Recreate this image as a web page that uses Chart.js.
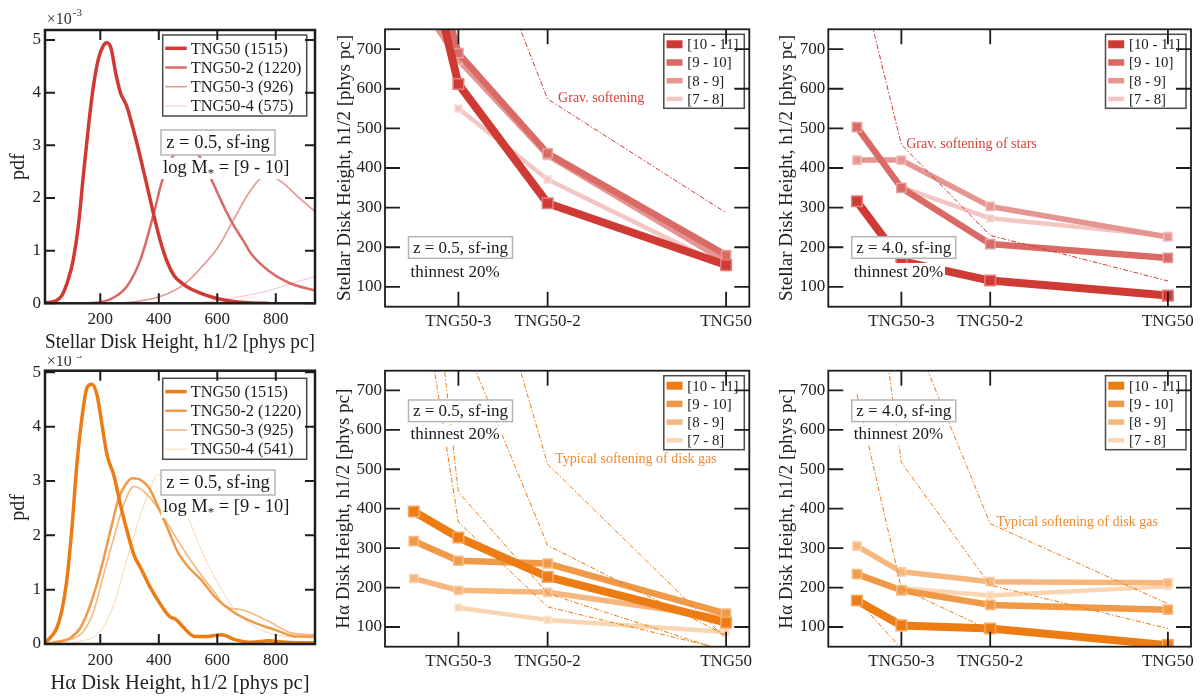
<!DOCTYPE html>
<html>
<head>
<meta charset="utf-8">
<title>TNG50 disk heights</title>
<script src="https://cdn.jsdelivr.net/npm/chart.js@4.4.0/dist/chart.umd.min.js"></script>
<style>
  html, body { margin: 0; padding: 0; background: #fff; }
  body { position: relative; width: 1200px; height: 697px; overflow: hidden; }
  canvas { position: absolute; }
</style>
</head>
<body>
<canvas id="pdfStars" width="330" height="356" style="left:0;top:0"></canvas>
<canvas id="resStarsZ05" width="440" height="350" style="left:320px;top:0"></canvas>
<canvas id="resStarsZ4" width="440" height="350" style="left:760px;top:0"></canvas>
<canvas id="pdfHa" width="330" height="341" style="left:0;top:356px"></canvas>
<canvas id="resHaZ05" width="440" height="347" style="left:320px;top:350px"></canvas>
<canvas id="resHaZ4" width="440" height="347" style="left:760px;top:350px"></canvas>

<script>
const SERIF = "'Liberation Serif', 'Times New Roman', serif";

// ---- colours ----
const reds = ["#cf3b34", "#da6a65", "#e69692", "#f2c6c3"];
const oranges = ["#ec7c13", "#f09a48", "#f5b77d", "#f9d5b1"];

// ---- left column: pdfs of disk height (pdf in units of 1e-3), log M* = [9 - 10] ----
const pdfTicksY = [0, 1, 2, 3, 4, 5];
const pdfTicksX = [200, 400, 600, 800];
const runNamesStars = ["TNG50 (1515)", "TNG50-2 (1220)", "TNG50-3 (926)", "TNG50-4 (575)"];
const runNamesHa = ["TNG50 (1515)", "TNG50-2 (1220)", "TNG50-3 (925)", "TNG50-4 (541)"];
const pdfWidths = [3.5, 2.5, 1.6, 1];

const starPdfX1 = [11, 45, 68, 91, 108, 125, 142, 160, 177, 194, 211, 223, 237, 252, 269, 290, 313, 338, 361, 384, 407, 430, 453, 480, 510, 540, 568, 600, 637, 706, 775];
const starPdfY1 = [0.01, 0.04, 0.14, 0.46, 0.84, 1.47, 2.42, 3.38, 4.14, 4.65, 4.90, 4.95, 4.84, 4.39, 4.0, 3.75, 3.3, 2.75, 2.2, 1.65, 1.15, 0.77, 0.52, 0.38, 0.27, 0.2, 0.14, 0.09, 0.05, 0.01, 0];
const starPdfX2 = [154, 200, 246, 292, 338, 384, 410, 440, 480, 520, 550, 575, 602, 630, 660, 690, 717, 775, 844, 934];
const starPdfY2 = [0, 0.02, 0.11, 0.33, 0.84, 1.73, 2.3, 2.72, 2.95, 2.9, 2.7, 2.41, 2.08, 1.75, 1.44, 1.18, 0.93, 0.62, 0.39, 0.24];
const starPdfX3 = [250, 330, 410, 487, 545, 602, 660, 706, 752, 775, 821, 878, 934];
const starPdfY3 = [0, 0.04, 0.14, 0.36, 0.68, 1.06, 1.63, 2.08, 2.39, 2.42, 2.30, 2.01, 1.74];
const starPdfX4 = [350, 545, 660, 775, 855, 934];
const starPdfY4 = [0, 0.02, 0.11, 0.24, 0.38, 0.51];

const haPdfX1 = [11, 33, 51, 68, 85, 102, 120, 137, 154, 171, 189, 206, 223, 246, 269, 292, 315, 338, 372, 407, 436, 459, 482, 522, 568, 614, 660, 717, 775, 832, 934];
const haPdfY1 = [0.02, 0.14, 0.29, 0.60, 1.15, 2.07, 3.30, 4.15, 4.71, 4.78, 4.58, 4.03, 3.48, 3.11, 2.56, 2.07, 1.64, 1.40, 1.03, 0.72, 0.51, 0.45, 0.32, 0.14, 0.14, 0.17, 0.08, 0.03, 0.06, 0.03, 0.02];
const haPdfX2 = [11, 62, 97, 131, 166, 200, 234, 263, 286, 309, 338, 367, 395, 430, 464, 499, 545, 591, 660, 728, 798, 867, 934];
const haPdfY2 = [0, 0.05, 0.11, 0.29, 0.72, 1.33, 2.07, 2.68, 2.93, 3.05, 3.02, 2.87, 2.56, 2.13, 1.70, 1.43, 1.18, 0.87, 0.57, 0.39, 0.26, 0.14, 0.14];
const haPdfX3 = [11, 97, 142, 177, 211, 246, 280, 315, 372, 407, 453, 499, 545, 591, 625, 683, 775, 855, 934];
const haPdfY3 = [0, 0.08, 0.23, 0.60, 1.27, 1.95, 2.56, 2.90, 2.68, 2.41, 2.01, 1.62, 1.27, 0.95, 0.70, 0.63, 0.42, 0.20, 0.17];
const haPdfX4 = [60, 131, 200, 246, 292, 338, 372, 395, 420, 460, 499, 545, 602, 660, 728, 798, 934];
const haPdfY4 = [0, 0.05, 0.23, 0.72, 1.58, 2.38, 2.87, 3.11, 3.08, 2.85, 2.35, 1.73, 1.12, 0.63, 0.32, 0.17, 0.11];

// ---- middle / right columns: thinnest-20% heights vs resolution ----
// x position of each run (TNG50-4, TNG50-3, TNG50-2, TNG50)
const resLevels = [1, 2, 4, 8];
const resTicks = [2, 4, 8];
const resTickLabels = ["TNG50-3", "TNG50-2", "TNG50"];
const heightTicks = [100, 200, 300, 400, 500, 600, 700];
const massBins = ["[10 - 11]", "[9 - 10]", "[8 - 9]", "[7 - 8]"];
const binWidths = [8, 6.5, 5.5, 4.5];
const binMarkers = [7.5, 6.5, 5.8, 4.8];

// stellar disk heights [phys pc], z = 0.5
const starZ05Bin1011 = [1075, 612, 311, 155];
const starZ05Bin910 = [1115, 690, 437, 180];
const starZ05Bin89 = [842, 672, 432, 163];
const starZ05Bin78 = [null, 550, 371, 150];
const starSoftZ05 = [2296, 1148, 574, 287];

// stellar disk heights [phys pc], z = 4
const starZ4Bin1011 = [316, 165, 116, 78];
const starZ4Bin910 = [503, 350, 208, 173];
const starZ4Bin89 = [420, 420, 303, 226];
const starZ4Bin78 = [null, 352, 273, 229];
const starSoftZ4 = [918, 459, 230, 115];

// H-alpha disk heights [phys pc], z = 0.5
const haZ05Bin1011 = [393, 327, 227, 111];
const haZ05Bin910 = [318, 268, 261, 134];
const haZ05Bin89 = [223, 193, 188, 122];
const haZ05Bin78 = [null, 149, 118, 87];
const gasSoftZ05A = [1083, 366, 151, 42];
const gasSoftZ05B = [1434, 442, 185, 38];
const gasSoftZ05C = [1130, 856, 307, 79];
const gasSoftZ05D = [2580, 1290, 513, 70];

// H-alpha disk heights [phys pc], z = 4
const haZ4Bin1011 = [167, 104, 96, 54];
const haZ4Bin910 = [234, 193, 156, 144];
const haZ4Bin89 = [305, 240, 215, 212];
const haZ4Bin78 = [null, 198, 180, 203];
const gasSoftZ4A = [1343, 517, 206, 96];
const gasSoftZ4B = [1830, 914, 362, 159];
const gasSoftZ4C = [690, 198, 92, 45];
const gasSoftZ4D = [170, 45, 25, 12];

// ---------------------------------------------------------------
function lighten(hex, f) {
  const n = parseInt(hex.slice(1), 16);
  const c = [n >> 16, (n >> 8) & 255, n & 255].map(v => Math.round(v + (255 - v) * f));
  return `rgb(${c[0]},${c[1]},${c[2]})`;
}

// frame around the plot area with inward ticks on all four sides
Chart.register({
  id: 'frame',
  afterDraw(chart, args, o) {
    const { ctx, chartArea: a } = chart;
    const { x, y } = chart.scales;
    ctx.save();
    ctx.strokeStyle = '#1c1c1c';
    ctx.lineWidth = o.tickWidth;
    ctx.beginPath();
    x.ticks.forEach(t => {
      const p = x.getPixelForValue(t.value);
      ctx.moveTo(p, a.bottom); ctx.lineTo(p, a.bottom - o.tickLen);
      ctx.moveTo(p, a.top); ctx.lineTo(p, a.top + o.tickLen);
    });
    y.ticks.forEach(t => {
      const p = y.getPixelForValue(t.value);
      ctx.moveTo(a.left, p); ctx.lineTo(a.left + o.tickLen, p);
      ctx.moveTo(a.right, p); ctx.lineTo(a.right - o.tickLen, p);
    });
    ctx.stroke();
    ctx.lineWidth = o.width;
    ctx.strokeRect(a.left, a.top, a.right - a.left, a.bottom - a.top);
    ctx.restore();
  }
});

// in-plot annotations: curve labels, redshift box, sample note, legend, axis multiplier
Chart.register({
  id: 'notes',
  afterDatasetsDraw(chart, args, o) {
    const { ctx, chartArea: a } = chart;
    const { x, y } = chart.scales;
    ctx.save();
    ctx.textBaseline = 'middle';

    (o.curveLabels || []).forEach(t => {
      ctx.font = `${t.size}px ${SERIF}`;
      ctx.fillStyle = t.color;
      ctx.textAlign = 'left';
      ctx.fillText(t.text, x.getPixelForValue(t.x), y.getPixelForValue(t.y));
    });

    if (o.box) {
      const b = o.box;
      ctx.fillStyle = '#fff';
      ctx.fillRect(a.left + b.x, a.top + b.y, b.w, b.h);
      ctx.strokeStyle = '#b5b5b5';
      ctx.lineWidth = 1.5;
      ctx.strokeRect(a.left + b.x, a.top + b.y, b.w, b.h);
      ctx.font = `${b.size}px ${SERIF}`;
      ctx.fillStyle = '#1a1a1a';
      ctx.textAlign = 'center';
      ctx.fillText(b.text, a.left + b.x + b.w / 2, a.top + b.y + b.h / 2 + 1);
    }

    if (o.note) {
      const n = o.note;
      ctx.textAlign = 'left';
      let px = a.left + n.x;
      const py = a.top + n.y;
      const pieces = n.parts.map(p => {
        const size = p.sub ? n.size * 0.7 : n.size;
        ctx.font = `${size}px ${SERIF}`;
        return { ...p, size, w: ctx.measureText(p.t).width };
      });
      const total = pieces.reduce((s, p) => s + p.w, 0);
      ctx.fillStyle = '#fff';
      ctx.fillRect(px - 2, py - n.size * 0.55, total + 4, n.size * 1.15);
      ctx.fillStyle = '#1a1a1a';
      pieces.forEach(p => {
        ctx.font = `${p.size}px ${SERIF}`;
        ctx.fillText(p.t, px, p.sub ? py + n.size * 0.3 : py);
        px += p.w;
      });
    }

    if (o.legend) {
      const L = o.legend;
      const sets = chart.data.datasets.filter(d => !d.softening);
      const bx = a.right - L.right - L.w;
      const by = a.top + L.top;
      ctx.fillStyle = '#fff';
      ctx.fillRect(bx, by, L.w, L.h);
      ctx.strokeStyle = '#4a4a4a';
      ctx.lineWidth = 1.5;
      ctx.strokeRect(bx, by, L.w, L.h);
      ctx.font = `${L.size}px ${SERIF}`;
      ctx.textAlign = 'left';
      sets.forEach((d, i) => {
        const ry = by + L.first + i * L.step;
        if (L.kind === 'bar') {
          const h = d.borderWidth;
          ctx.fillStyle = d.borderColor;
          ctx.fillRect(bx + L.swX, ry - h / 2, L.swW, h);
        } else {
          ctx.strokeStyle = d.borderColor;
          ctx.lineWidth = d.borderWidth;
          ctx.beginPath();
          ctx.moveTo(bx + L.swX, ry);
          ctx.lineTo(bx + L.swX + L.swW, ry);
          ctx.stroke();
        }
        ctx.fillStyle = '#1a1a1a';
        ctx.fillText(d.label, bx + L.textX, ry + 1);
      });
    }

    if (o.multiplier) {
      const m = o.multiplier;
      ctx.textAlign = 'left';
      ctx.fillStyle = '#333';
      ctx.font = `16px ${SERIF}`;
      const base = '\u00d710';
      ctx.fillText(base, a.left + m.x, a.top + m.y);
      const w = ctx.measureText(base).width;
      ctx.font = `11px ${SERIF}`;
      ctx.fillText('-3', a.left + m.x + w + 1, a.top + m.y - 7);
    }
    ctx.restore();
  }
});

function fixedTicks(values) {
  return s => { s.ticks = values.map(v => ({ value: v })); };
}

// ---- pdf panels ----
function pdfChart(id, cfg) {
  const datasets = cfg.curves.map((c, i) => ({
    label: cfg.names[i],
    data: c[0].map((xv, k) => ({ x: xv, y: c[1][k] })),
    borderColor: cfg.colors[i],
    borderWidth: pdfWidths[i],
    pointRadius: 0,
    cubicInterpolationMode: 'monotone',
    fill: false,
    clip: 0
  }));
  new Chart(document.getElementById(id), {
    type: 'line',
    data: { datasets },
    options: {
      responsive: false,
      animation: false,
      events: [],
      layout: { padding: { top: cfg.top, right: 15, left: 0, bottom: 0 } },
      scales: {
        x: {
          type: 'linear', position: 'bottom', min: 11, max: 934,
          afterBuildTicks: fixedTicks(pdfTicksX),
          afterFit: s => { s.height = cfg.xAxisH; },
          grid: { display: false, drawTicks: false }, border: { display: false },
          ticks: { color: '#222', padding: 6, font: { family: SERIF, size: 17 } },
          title: { display: true, text: cfg.xTitle, color: '#222', padding: { top: 0, bottom: 1 }, font: { family: SERIF, size: 20.5 } }
        },
        y: {
          type: 'linear', position: 'left', min: 0, max: cfg.yMax,
          afterBuildTicks: fixedTicks(pdfTicksY),
          afterFit: s => { s.width = 45; },
          grid: { display: false, drawTicks: false }, border: { display: false },
          ticks: { color: '#222', padding: 4, font: { family: SERIF, size: 17 } },
          title: { display: true, text: 'pdf', color: '#222', padding: { top: 7, bottom: 0 }, font: { family: SERIF, size: 20 } }
        }
      },
      plugins: {
        legend: { display: false },
        tooltip: { enabled: false },
        frame: { width: 2.5, tickWidth: 2, tickLen: 10 },
        notes: {
          multiplier: cfg.multiplier,
          box: { text: 'z = 0.5, sf-ing', x: 116, y: cfg.boxY, w: 114, h: 25, size: 18.5 },
          note: { x: 118, y: cfg.noteY, size: 18.5, parts: [{ t: 'log M' }, { t: '*', sub: true }, { t: ' = [9 - 10]' }] },
          legend: { right: 8.3, top: cfg.legTop, w: 144, h: 81, first: 13.3, step: 19.2, swX: 2.5, swW: 21.5, textX: 28, size: 16.3, kind: 'line' }
        }
      }
    }
  });
}

pdfChart('pdfStars', {
  curves: [[starPdfX1, starPdfY1], [starPdfX2, starPdfY2], [starPdfX3, starPdfY3], [starPdfX4, starPdfY4]],
  names: runNamesStars, colors: reds,
  top: 30, xAxisH: 52.7, yMax: 5.19,
  xTitle: 'Stellar Disk Height, h1/2 [phys pc]',
  multiplier: { x: 1.7, y: -10 },
  boxY: 100, noteY: 138, legTop: 5
});

pdfChart('pdfHa', {
  curves: [[haPdfX1, haPdfY1], [haPdfX2, haPdfY2], [haPdfX3, haPdfY3], [haPdfX4, haPdfY4]],
  names: runNamesHa, colors: oranges,
  top: 14.7, xAxisH: 53, yMax: 5.03,
  xTitle: 'H\u03b1 Disk Height, h1/2 [phys pc]',
  multiplier: { x: 1.7, y: -8.5 },
  boxY: 99.3, noteY: 136, legTop: 7.6
});

// ---- resolution-convergence panels ----
function resChart(id, cfg) {
  const datasets = cfg.bins.map((vals, i) => ({
    label: massBins[i],
    data: resLevels.map((xv, k) => ({ x: xv, y: vals[k] })),
    borderColor: cfg.colors[i],
    borderWidth: binWidths[i],
    pointStyle: 'rect',
    pointRadius: binMarkers[i],
    pointBackgroundColor: cfg.colors[i],
    pointBorderColor: lighten(cfg.colors[i], 0.35),
    pointBorderWidth: 1.5,
    borderJoinStyle: 'round',
    fill: false,
    clip: 0
  }));
  cfg.soft.forEach(vals => datasets.push({
    label: 'softening',
    softening: true,
    data: resLevels.map((xv, k) => ({ x: xv, y: vals[k] })),
    borderColor: cfg.colors[0],
    borderWidth: 1,
    borderDash: [5, 2, 1.5, 2],
    pointRadius: 0,
    fill: false,
    clip: 0,
    order: -1
  }));
  new Chart(document.getElementById(id), {
    type: 'line',
    data: { datasets },
    options: {
      responsive: false,
      animation: false,
      events: [],
      layout: { padding: { top: cfg.top, right: cfg.right, left: 0, bottom: 0 } },
      scales: {
        x: {
          type: 'linear', position: 'bottom', min: 0.355, max: 8.52,
          afterBuildTicks: fixedTicks(resTicks),
          afterFit: s => { s.height = cfg.xAxisH; },
          grid: { display: false, drawTicks: false }, border: { display: false },
          ticks: { color: '#222', padding: 5, font: { family: SERIF, size: 17 },
                   callback: v => resTickLabels[resTicks.indexOf(v)] }
        },
        y: {
          type: 'linear', position: 'left', min: 50, max: 750,
          afterBuildTicks: fixedTicks(heightTicks),
          afterFit: s => { s.width = cfg.left; },
          grid: { display: false, drawTicks: false }, border: { display: false },
          ticks: { color: '#222', padding: 3, font: { family: SERIF, size: 17 } },
          title: { display: true, text: cfg.yTitle, color: '#222', padding: { top: cfg.titlePad, bottom: 0 }, font: { family: SERIF, size: 19 } }
        }
      },
      plugins: {
        legend: { display: false },
        tooltip: { enabled: false },
        frame: { width: 1.8, tickWidth: 1.8, tickLen: 15 },
        notes: {
          curveLabels: [cfg.softLabel],
          box: { text: cfg.zText, x: 23.5, y: cfg.boxY, w: 104, h: 21.6, size: 17 },
          note: { x: 25.5, y: cfg.noteY, size: 17, parts: [{ t: 'thinnest 20%' }] },
          legend: { right: 5, top: 5, w: 80.5, h: 74, first: 10, step: 18.2, swX: 2.7, swW: 16, textX: 23.5, size: 14.8, kind: 'bar' }
        }
      }
    }
  });
}

resChart('resStarsZ05', {
  bins: [starZ05Bin1011, starZ05Bin910, starZ05Bin89, starZ05Bin78],
  soft: [starSoftZ05], colors: reds,
  top: 29.3, right: 10.7, left: 65, xAxisH: 43.3, titlePad: 13.6,
  yTitle: 'Stellar Disk Height, h1/2 [phys pc]', zText: 'z = 0.5, sf-ing',
  boxY: 207.4, noteY: 243,
  softLabel: { text: 'Grav. softening', x: 4.235, y: 575, size: 14, color: '#d2423b' }
});

resChart('resStarsZ4', {
  bins: [starZ4Bin1011, starZ4Bin910, starZ4Bin89, starZ4Bin78],
  soft: [starSoftZ4], colors: reds,
  top: 29.3, right: 7.7, left: 68.3, xAxisH: 43.3, titlePad: 16.1,
  yTitle: 'Stellar Disk Height, h1/2 [phys pc]', zText: 'z = 4.0, sf-ing',
  boxY: 207.4, noteY: 243,
  softLabel: { text: 'Grav. softening of stars', x: 2.11, y: 459, size: 14, color: '#d2423b' }
});

resChart('resHaZ05', {
  bins: [haZ05Bin1011, haZ05Bin910, haZ05Bin89, haZ05Bin78],
  soft: [gasSoftZ05A, gasSoftZ05B, gasSoftZ05C, gasSoftZ05D], colors: oranges,
  top: 20.7, right: 10.7, left: 65, xAxisH: 50.3, titlePad: 12.6,
  yTitle: 'H\u03b1 Disk Height, h1/2 [phys pc]', zText: 'z = 0.5, sf-ing',
  boxY: 29.3, noteY: 64.3,
  softLabel: { text: 'Typical softening of disk gas', x: 4.17, y: 525, size: 14, color: '#ee8a2c' }
});

resChart('resHaZ4', {
  bins: [haZ4Bin1011, haZ4Bin910, haZ4Bin89, haZ4Bin78],
  soft: [gasSoftZ4A, gasSoftZ4B, gasSoftZ4C, gasSoftZ4D], colors: oranges,
  top: 20.7, right: 7.7, left: 68.3, xAxisH: 50.3, titlePad: 16.1,
  yTitle: 'H\u03b1 Disk Height, h1/2 [phys pc]', zText: 'z = 4.0, sf-ing',
  boxY: 29.3, noteY: 64.3,
  softLabel: { text: 'Typical softening of disk gas', x: 4.14, y: 366, size: 14, color: '#ee8a2c' }
});
</script>
</body>
</html>
